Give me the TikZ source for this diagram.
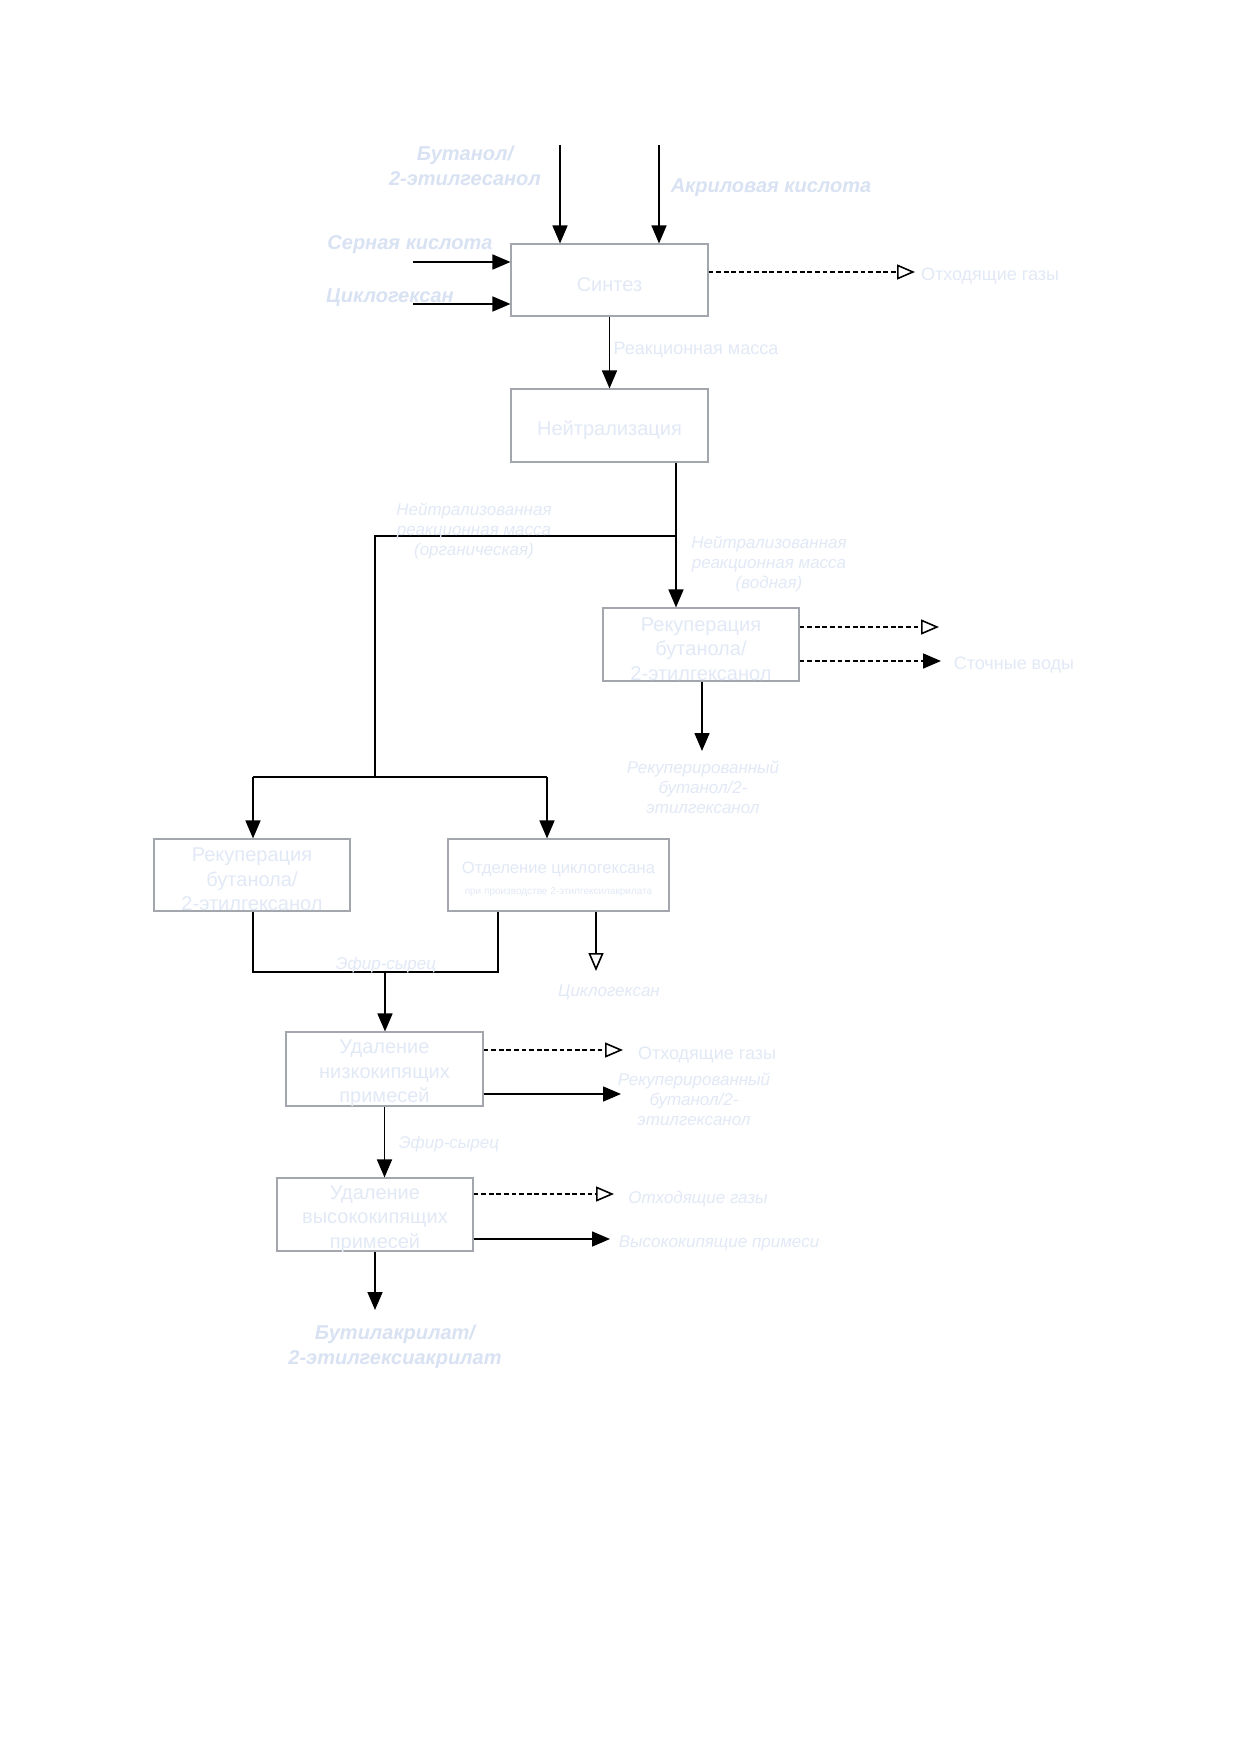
\documentclass[tikz,border=0pt]{standalone}
\usepackage{fontspec}
\setmainfont{Liberation Sans}
\usetikzlibrary{arrows.meta}
\definecolor{txt}{RGB}{226,233,246}
\definecolor{txtb}{RGB}{216,226,243}
\definecolor{boxc}{RGB}{163,166,173}
\begin{document}
\begin{tikzpicture}[x=0.5pt,y=-0.5pt,
  procbox/.style={draw=boxc,line width=0.55pt,fill=white,inner sep=0pt},
  boxtxt/.style={text=txt,font=\fontsize{10}{12.25}\selectfont,align=center,inner sep=0pt,yshift=-2.2pt},
  lbl/.style={text=txt,font=\fontsize{8.5}{10}\selectfont\itshape,align=center,inner sep=0pt,yshift=-1.2pt},
  lblr/.style={text=txt,font=\fontsize{9}{10.5}\selectfont,align=center,inner sep=0pt,yshift=-1.2pt},
  lblb/.style={text=txtb,font=\fontsize{10}{12.5}\selectfont\bfseries\itshape,align=center,inner sep=0pt,yshift=-1.8pt},
  flow/.style={line width=0.8pt,-{Triangle[length=9pt,width=7.5pt]}},
  openflow/.style={line width=0.8pt,-{Triangle[open,length=9pt,width=7.5pt]}},
  dashopen/.style={line width=0.8pt,dash pattern=on 2.4pt off 1.4pt,-{Triangle[open,length=9pt,width=7.5pt]}},
  dashfill/.style={line width=0.8pt,dash pattern=on 2.4pt off 1.4pt,-{Triangle[length=9pt,width=7.5pt]}},
  plain/.style={line width=0.8pt}]
\useasboundingbox (0,0) rectangle (1240,1754);
\fill[white] (0,0) rectangle (1240,1754);

% process boxes
\node[procbox,minimum width=98.5pt,minimum height=36pt] (synth) at (609.5,280) {};
\node[procbox,minimum width=98.5pt,minimum height=36.5pt] (neut) at (609.5,425.5) {};
\node[procbox,minimum width=98pt,minimum height=36.5pt] (rec1) at (701,644.5) {};
\node[procbox,minimum width=98pt,minimum height=36pt] (rec2) at (252,875) {};
\node[procbox,minimum width=110.5pt,minimum height=36pt] (sep) at (558.5,875) {};
\node[procbox,minimum width=98.5pt,minimum height=37pt] (low) at (384.5,1069) {};
\node[procbox,minimum width=98pt,minimum height=36.5pt] (high) at (375,1214.5) {};

% box texts
\node[boxtxt] (synthT) at (synth.center) {Синтез};
\node[boxtxt] (neutT) at (neut.center) {Нейтрализация};
\node[boxtxt] (rec1T) at (rec1.center) {Рекуперация\\бутанола/\\2-этилгексанол};
\node[boxtxt] (rec2T) at (rec2.center) {Рекуперация\\бутанола/\\2-этилгексанол};
\node[boxtxt,font=\fontsize{8.3}{10.5}\selectfont] (sepT) at (sep.center)
  {Отделение циклогексана\\{\fontsize{5}{6}\selectfont при производстве 2-этилгексилакрилата}};
\node[boxtxt] (lowT) at (low.center) {Удаление\\низкокипящих\\примесей};
\node[boxtxt] (highT) at (high.center) {Удаление\\высококипящих\\примесей};

% inputs to synthesis
\coordinate (inA) at (560,145);
\coordinate (inB) at (659,145);
\coordinate (inC) at (413,262);
\coordinate (inD) at (413,304);
\draw[flow] (inA) -- (inA |- synth.north);
\draw[flow] (inB) -- (inB |- synth.north);
\draw[flow] (inC) -- (inC -| synth.west);
\draw[flow] (inD) -- (inD -| synth.west);
\node[lblb] (lbut) at (465,162) {Бутанол/\\2-этилгесанол};
\node[lblb] (lacr) at (771,184) {Акриловая кислота};
\node[lblb] (lsulf) at (410,241) {Серная кислота};
\node[lblb] (lcyc) at (390,294) {Циклогексан};

% synthesis outputs
\coordinate (g1) at (915,272);
\draw[dashopen] (g1 -| synth.east) -- (g1);
\node[lblr] (lg1) at (990,274) {Отходящие газы};
\draw[flow] (synth.south) -- (neut.north);
\node[lblr] (lrm) at (696,348) {Реакционная масса};

% neutralization split
\coordinate (j1) at (676,536);
\coordinate (j2) at (375,536);
\coordinate (j3) at (375,777);
\coordinate (j4) at (253,777);
\coordinate (j5) at (547,777);
\draw[flow] (j1 |- neut.south) -- (j1 |- rec1.north);
\draw[plain] (j1) -- (j2) -- (j3);
\draw[plain] (j4) -- (j5);
\draw[flow] (j4) -- (j4 |- rec2.north);
\draw[flow] (j5) -- (j5 |- sep.north);
\node[lbl] (lorg) at (474,529) {Нейтрализованная\\реакционная масса\\(органическая)};
\node[lbl] (laq) at (769,562) {Нейтрализованная\\реакционная масса\\(водная)};

% recuperation 1 outputs
\coordinate (g2) at (939,627);
\coordinate (w1) at (941,661);
\coordinate (r1) at (702,751);
\draw[dashopen] (g2 -| rec1.east) -- (g2);
\draw[dashfill] (w1 -| rec1.east) -- (w1);
\draw[flow] (r1 |- rec1.south) -- (r1);
\node[lblr] (lww) at (1014,663) {Сточные воды};
\node[lbl] (lrec1) at (703,785) {Рекуперированный\\бутанол/2-\\этилгексанол};

% separation and merge
\coordinate (c1) at (596,971);
\draw[openflow] (c1 |- sep.south) -- (c1);
\node[lbl] (lcyc2) at (609,990) {Циклогексан};
\coordinate (m1) at (253,972);
\coordinate (m2) at (498,972);
\coordinate (m) at (385,972);
\draw[plain] (m1 |- rec2.south) -- (m1) -- (m2) -- (m2 |- sep.south);
\draw[flow] (m) -- (m |- low.north);
\node[lbl] (lest1) at (386,963) {Эфир-сырец};

% low boilers removal
\coordinate (g3) at (623,1050);
\coordinate (p1) at (621,1094);
\draw[dashopen] (g3 -| low.east) -- (g3);
\draw[flow] (p1 -| low.east) -- (p1);
\node[lblr] (lg3) at (707,1053) {Отходящие газы};
\node[lbl] (lrec2) at (694,1097) {Рекуперированный\\бутанол/2-\\этилгексанол};
\draw[flow] (low.south) -- (low.south |- high.north);
\node[lbl] (lest2) at (449,1142) {Эфир-сырец};

% high boilers removal
\coordinate (g4) at (614,1194);
\coordinate (p2) at (610,1239);
\coordinate (fin) at (375,1310);
\draw[dashopen] (g4 -| high.east) -- (g4);
\draw[flow] (p2 -| high.east) -- (p2);
\draw[flow] (fin |- high.south) -- (fin);
\node[lbl] (lg4) at (698,1197) {Отходящие газы};
\node[lbl] (lhb) at (719,1241) {Высококипящие примеси};
\node[lblb] (lprod) at (395,1343) {Бутилакрилат/\\2-этилгексиакрилат};
\end{tikzpicture}
\end{document}
